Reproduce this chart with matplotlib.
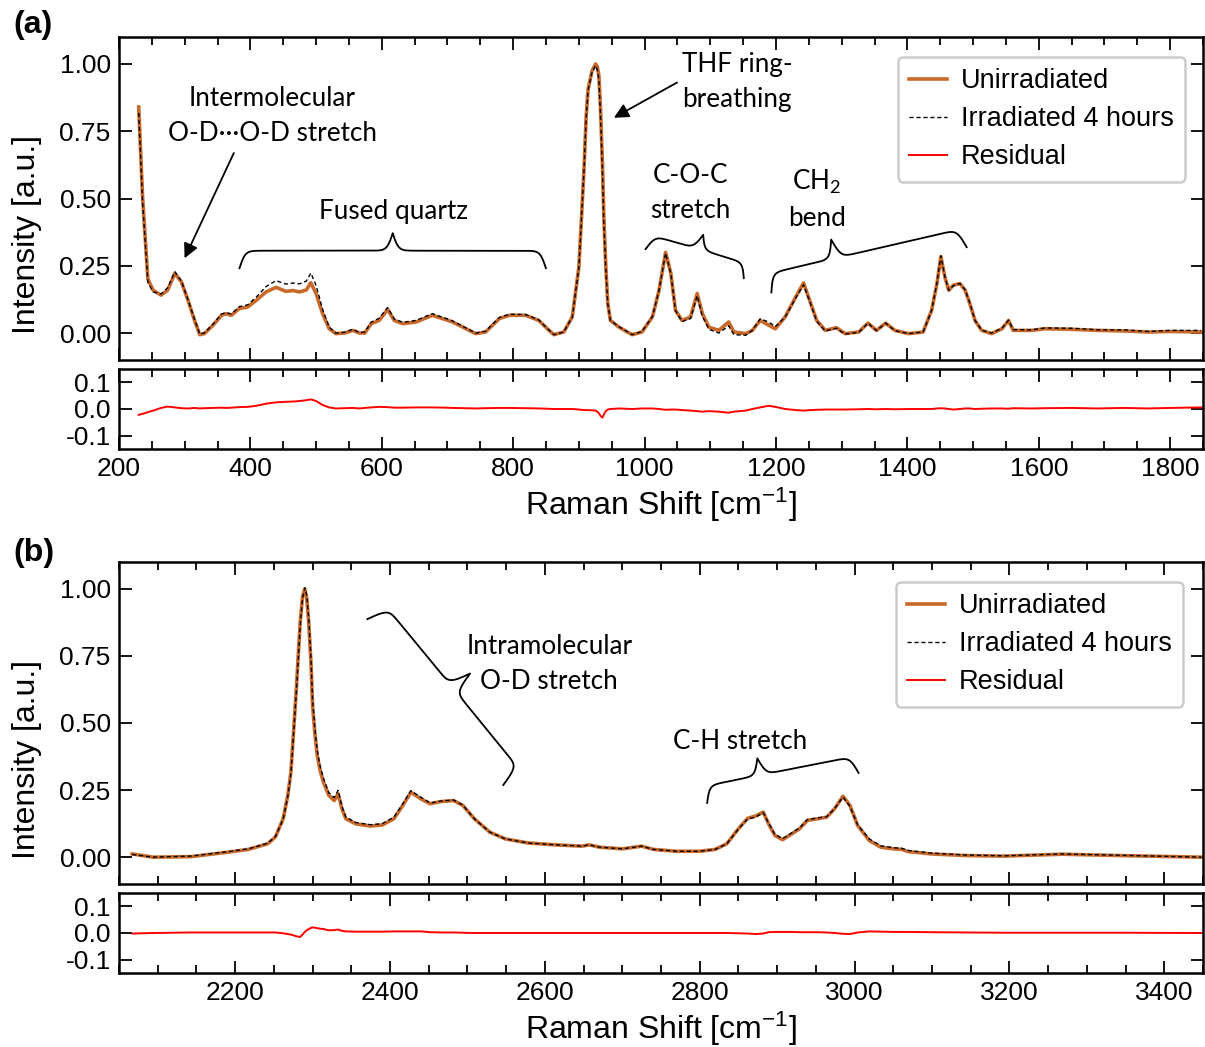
import numpy as np
import matplotlib.pyplot as plt
from matplotlib.ticker import MultipleLocator, FormatStrFormatter

plt.rcParams['font.family'] = ['Liberation Sans', 'DejaVu Sans']
plt.rcParams['mathtext.default'] = 'regular'
plt.rcParams['axes.unicode_minus'] = False
plt.rcParams['axes.linewidth'] = 1.8

# ---- panel (a): 200-1850 cm-1 ----
shift_a = [230, 236, 244, 252, 264, 274, 285, 295, 305, 315, 323, 330, 343, 356,
           363, 371, 383, 396, 409, 424, 439, 454, 465, 475, 485, 492, 500, 510,
           520, 530, 543, 556, 566, 574, 584, 596, 609, 619, 632, 652, 677, 697,
           708, 743, 758, 779, 794, 819, 839, 852, 862, 877, 890, 900, 904, 908,
           911, 914, 920, 925.5, 928, 930.5, 933, 936, 938, 941, 944, 948, 961, 981,
           996, 1012, 1022, 1032, 1040,
           1047, 1057, 1070, 1080, 1088, 1098, 1113, 1128, 1136, 1154, 1164, 1176,
           1189, 1199, 1214, 1230, 1242, 1253, 1262, 1275, 1292, 1305, 1326, 1340,
           1353, 1367, 1381, 1402, 1424, 1437, 1445, 1451, 1457, 1463, 1470, 1480,
           1488, 1495, 1503, 1513, 1528, 1544, 1554, 1561, 1589, 1609, 1650, 1690,
           1730, 1766, 1800, 1847]
unirr_a = [0.84, 0.50, 0.20, 0.159, 0.141, 0.159, 0.222, 0.19, 0.122, 0.047, -0.006,
           -0.002, 0.029, 0.066, 0.072, 0.066, 0.091, 0.097, 0.122, 0.153, 0.170,
           0.155, 0.158, 0.153, 0.160, 0.187, 0.147, 0.072, 0.016, -0.002, 0.0, 0.01,
           0.0, 0.0, 0.035, 0.047, 0.088, 0.047, 0.035, 0.041, 0.066, 0.050, 0.041,
           -0.002, 0.004, 0.054, 0.066, 0.066, 0.047, 0.016, -0.006, 0.004, 0.06,
           0.246, 0.43, 0.62, 0.80, 0.906, 0.974, 1.0, 0.99, 0.955, 0.83, 0.62, 0.43,
           0.246, 0.11, 0.047, 0.022, -0.006,
           0.004, 0.06, 0.159, 0.30, 0.222, 0.085, 0.047, 0.06, 0.147, 0.072, 0.022,
           0.01, 0.041, 0.004, -0.002, 0.01, 0.047, 0.029, 0.016, 0.06, 0.134, 0.186,
           0.11, 0.047, 0.01, 0.02, -0.002, 0.004, 0.037, 0.01, 0.037, 0.01, -0.002,
           0.004, 0.085, 0.184, 0.284, 0.209, 0.159, 0.178, 0.184, 0.159, 0.11, 0.047,
           0.01, -0.002, 0.016, 0.047, 0.01, 0.01, 0.016, 0.014, 0.01, 0.008, 0.004,
           0.006, 0.004]
resid_a = [-0.022, -0.018, -0.012, -0.006, 0.004, 0.009, 0.006, 0.003, 0.002, 0.004,
           0.002, 0.003, 0.004, 0.005, 0.004, 0.005, 0.007, 0.008, 0.012, 0.020,
           0.025, 0.027, 0.028, 0.030, 0.033, 0.036, 0.030, 0.015, 0.006, 0.002,
           0.003, 0.004, 0.002, 0.004, 0.006, 0.008, 0.007, 0.005, 0.005, 0.006,
           0.006, 0.005, 0.004, 0.002, 0.003, 0.004, 0.004, 0.003, 0.002, 0.001,
           0.0, 0.0, 0.0, -0.002, -0.003, -0.004, -0.004, -0.004, -0.005, -0.006,
           -0.01, -0.016, -0.026, -0.032, -0.02, -0.008, -0.002, 0.0, 0.002, 0.0,
           0.002, 0.002, 0.0, -0.003, -0.002, -0.002,
           -0.004, -0.006, -0.008, -0.010, -0.008, -0.010, -0.014, -0.010, -0.006,
           0.0, 0.006, 0.012, 0.008, 0.0, -0.004, -0.006, -0.004, -0.003, -0.002,
           -0.002, -0.002, -0.001, 0.0, -0.001, 0.0, -0.001, 0.0, 0.0, 0.0, 0.002,
           0.003, 0.002, 0.0, -0.002, 0.0, 0.002, 0.002, 0.0, 0.001, 0.002, 0.002,
           0.001, 0.003, 0.002, 0.003, 0.004, 0.002, 0.004, 0.002, 0.004, 0.006]

# ---- panel (b): 2050-3450 cm-1 ----
shift_b = [2067, 2094, 2143, 2192, 2217, 2242, 2252, 2262, 2268, 2272, 2275.5, 2279,
           2284, 2287, 2290, 2292.5, 2295, 2298, 2300, 2303, 2306, 2310, 2314, 2321,
           2328, 2333, 2338, 2343, 2356, 2375, 2390,
           2405, 2415, 2427, 2440, 2452, 2465, 2482, 2494, 2509, 2529, 2549, 2578,
           2613, 2648, 2657, 2671, 2700, 2725, 2740, 2770, 2800, 2820, 2835, 2850,
           2862, 2872, 2882, 2889, 2897, 2907, 2919, 2929, 2939, 2952, 2964, 2974,
           2985, 2994, 3004, 3019, 3034, 3051, 3061, 3069, 3099, 3144, 3193, 3268,
           3343, 3448]
unirr_b = [0.012, 0.0, 0.002, 0.019, 0.029, 0.05, 0.075, 0.143, 0.23, 0.317, 0.47,
           0.627, 0.876, 0.97, 1.0, 0.965, 0.876, 0.72, 0.565, 0.46, 0.379, 0.32,
           0.28, 0.23, 0.211, 0.236, 0.18, 0.143, 0.124,
           0.116, 0.12, 0.143, 0.186, 0.242, 0.217, 0.199, 0.207, 0.211, 0.193, 0.143,
           0.093, 0.068, 0.053, 0.046, 0.041, 0.046, 0.037, 0.031, 0.041, 0.029, 0.022,
           0.022, 0.029, 0.05, 0.106, 0.145, 0.153, 0.168, 0.124, 0.081, 0.065, 0.087,
           0.106, 0.137, 0.143, 0.149, 0.18, 0.227, 0.193, 0.118, 0.062, 0.037, 0.031,
           0.029, 0.021, 0.012, 0.006, 0.004, 0.011, 0.006, 0.0]
resid_b = [-0.002, 0.0, 0.002, 0.002, 0.002, 0.002, 0.002, -0.001, -0.004, -0.006,
           -0.009, -0.012, -0.015, -0.006, 0.004, 0.010, 0.015, 0.019, 0.021, 0.020,
           0.018, 0.016, 0.015, 0.010, 0.011, 0.013, 0.008,
           0.006, 0.005, 0.005, 0.005, 0.006, 0.006, 0.006, 0.006, 0.003, 0.002,
           0.002, 0.001, 0.0, 0.0, 0.0, 0.0, 0.0, 0.0, 0.0, 0.0, 0.0, 0.0, 0.0, 0.0,
           0.0, 0.0, 0.0, -0.001, -0.002, -0.004, -0.002, 0.003, 0.004, 0.004, 0.004,
           0.003, 0.003, 0.003, 0.002, 0.0, -0.003, -0.004, 0.002, 0.006, 0.005,
           0.004, 0.004, 0.004, 0.003, 0.002, 0.001, 0.001, 0.001, 0.0]

shift_a = np.array(shift_a); unirr_a = np.array(unirr_a); resid_a = np.array(resid_a)
shift_b = np.array(shift_b); unirr_b = np.array(unirr_b); resid_b = np.array(resid_b)
# residual = irradiated - unirradiated
irr_a = unirr_a + resid_a
irr_b = unirr_b + resid_b

ORANGE = '#c8692a'
W, H = 1205, 1047
fig = plt.figure(figsize=(W / 100, H / 100), dpi=100)


def px_axes(x0, y0, x1, y1):
    return fig.add_axes([x0 / W, 1 - y1 / H, (x1 - x0) / W, (y1 - y0) / H])


def style(ax, xlim, ylim, ymaj, fmt):
    ax.set_xlim(*xlim)
    ax.set_ylim(*ylim)
    ax.xaxis.set_major_locator(MultipleLocator(200))
    ax.xaxis.set_minor_locator(MultipleLocator(50))
    ax.yaxis.set_major_locator(MultipleLocator(ymaj))
    ax.yaxis.set_major_formatter(FormatStrFormatter(fmt))
    ax.tick_params(which='both', direction='in', top=True, right=True,
                   width=1.3, labelsize=19, pad=6)
    ax.tick_params(which='major', length=9)
    ax.tick_params(which='minor', length=5.5)


def brace(ax, p0, p1, h, frac=0.5, beta=0.35, n=200):
    # curly bracket between two tips, built in pixel space
    a = ax.transData.transform(p0)
    b = ax.transData.transform(p1)
    d = b - a
    L = np.hypot(*d)
    d = d / L
    nrm = np.array([-d[1], d[0]])
    sig = lambda t: 1 / (1 + np.exp(-t))
    l1 = frac * L
    l2 = L - l1
    u1 = np.linspace(0, l1, n)
    v1 = h * (sig(beta * u1) + sig(beta * (u1 - l1)) - 0.5)
    u2 = np.linspace(0, l2, n)
    v2 = h * (sig(beta * u2) + sig(beta * (u2 - l2)) - 0.5)
    u = np.concatenate([u1, L - u2[::-1]])
    v = np.concatenate([v1, v2[::-1]])
    pts = a + np.outer(u, d) + np.outer(v, nrm)
    xy = ax.transData.inverted().transform(pts)
    ax.plot(xy[:, 0], xy[:, 1], color='k', lw=1.3, clip_on=False)


def arrow(ax, tail, head):
    ax.annotate('', xy=head, xytext=tail,
                arrowprops=dict(arrowstyle='-|>', color='k', lw=1.3,
                                mutation_scale=22, shrinkA=0, shrinkB=0))


ann = dict(family=['Lato', 'DejaVu Sans'], fontsize=18.8, ha='center', va='center',
           linespacing=1.5)


def panel(ax, res, x, unirr, irr, resid, xlim, leg_anchor):
    l1, = ax.plot(x, unirr, color=ORANGE, lw=2.6, label='Unirradiated')
    l2, = ax.plot(x, irr, color='k', lw=1.0, ls=(0, (3, 2)), label='Irradiated 4 hours')
    l3, = res.plot(x, resid, color='red', lw=1.4, label='Residual')
    style(ax, xlim, (-0.1, 1.1), 0.25, '%.2f')
    style(res, xlim, (-0.15, 0.15), 0.1, '%.1f')
    ax.tick_params(labelbottom=False)
    ax.set_ylabel('Intensity [a.u.]', fontsize=23)
    ax.yaxis.set_label_coords(-0.071, 0.388)
    res.set_xlabel('Raman Shift [cm$^{-1}$]', fontsize=23)
    res.xaxis.set_label_coords(0.5, -0.46)
    leg = ax.legend(handles=[l1, l2, l3], loc='upper right', bbox_to_anchor=leg_anchor,
                    borderaxespad=0, fontsize=19.5, handlelength=1.4, handletextpad=0.5,
                    labelspacing=0.44, borderpad=0.42, fancybox=True, framealpha=1,
                    edgecolor='0.8')
    leg.get_frame().set_linewidth(1.8)


axA = px_axes(119, 37, 1203, 360)
resA = px_axes(119, 369, 1203, 449)
axB = px_axes(119, 562, 1203, 884)
resB = px_axes(119, 893, 1203, 973)

panel(axA, resA, shift_a, unirr_a, irr_a, resid_a, (200, 1850), (0.9834, 0.938))
panel(axB, resB, shift_b, unirr_b, irr_b, resid_b, (2050, 3450), (0.9815, 0.938))

# annotations (a)
axA.text(433.6, 0.806, 'Intermolecular\nO-D\u00b7\u00b7\u00b7O-D stretch', **ann)
arrow(axA, (374.8, 0.669), (299.8, 0.278))
axA.text(617.5, 0.45, 'Fused quartz', **ann)
brace(axA, (383.4, 0.241), (849.8, 0.241), 35)
axA.text(1140.7, 0.931, 'THF ring-\nbreathing', **ann)
arrow(axA, (1049.5, 0.931), (953.3, 0.80))
axA.text(1069.9, 0.52, 'C-O-C\nstretch', **ann)
brace(axA, (1001.5, 0.312), (1151, 0.204), 30)
axA.text(1261.8, 0.495, 'CH$_2$\nbend', **ann)
brace(axA, (1193, 0.151), (1490.3, 0.319), 38, frac=0.35)

# annotations (b)
axB.text(2605.6, 0.72, 'Intramolecular\nO-D stretch', **ann)
brace(axB, (2370.7, 0.887), (2546.3, 0.269), 45)
axB.text(2852, 0.43, 'C-H stretch', **ann)
brace(axB, (2809.6, 0.202), (3005.2, 0.314), 34, frac=0.375)

fig.text(13 / W, 1 - 25 / H, '(a)', fontsize=23, fontweight='bold', ha='left', va='center')
fig.text(13 / W, 1 - 553 / H, '(b)', fontsize=23, fontweight='bold', ha='left', va='center')

fig.savefig('out.png', dpi=100)
